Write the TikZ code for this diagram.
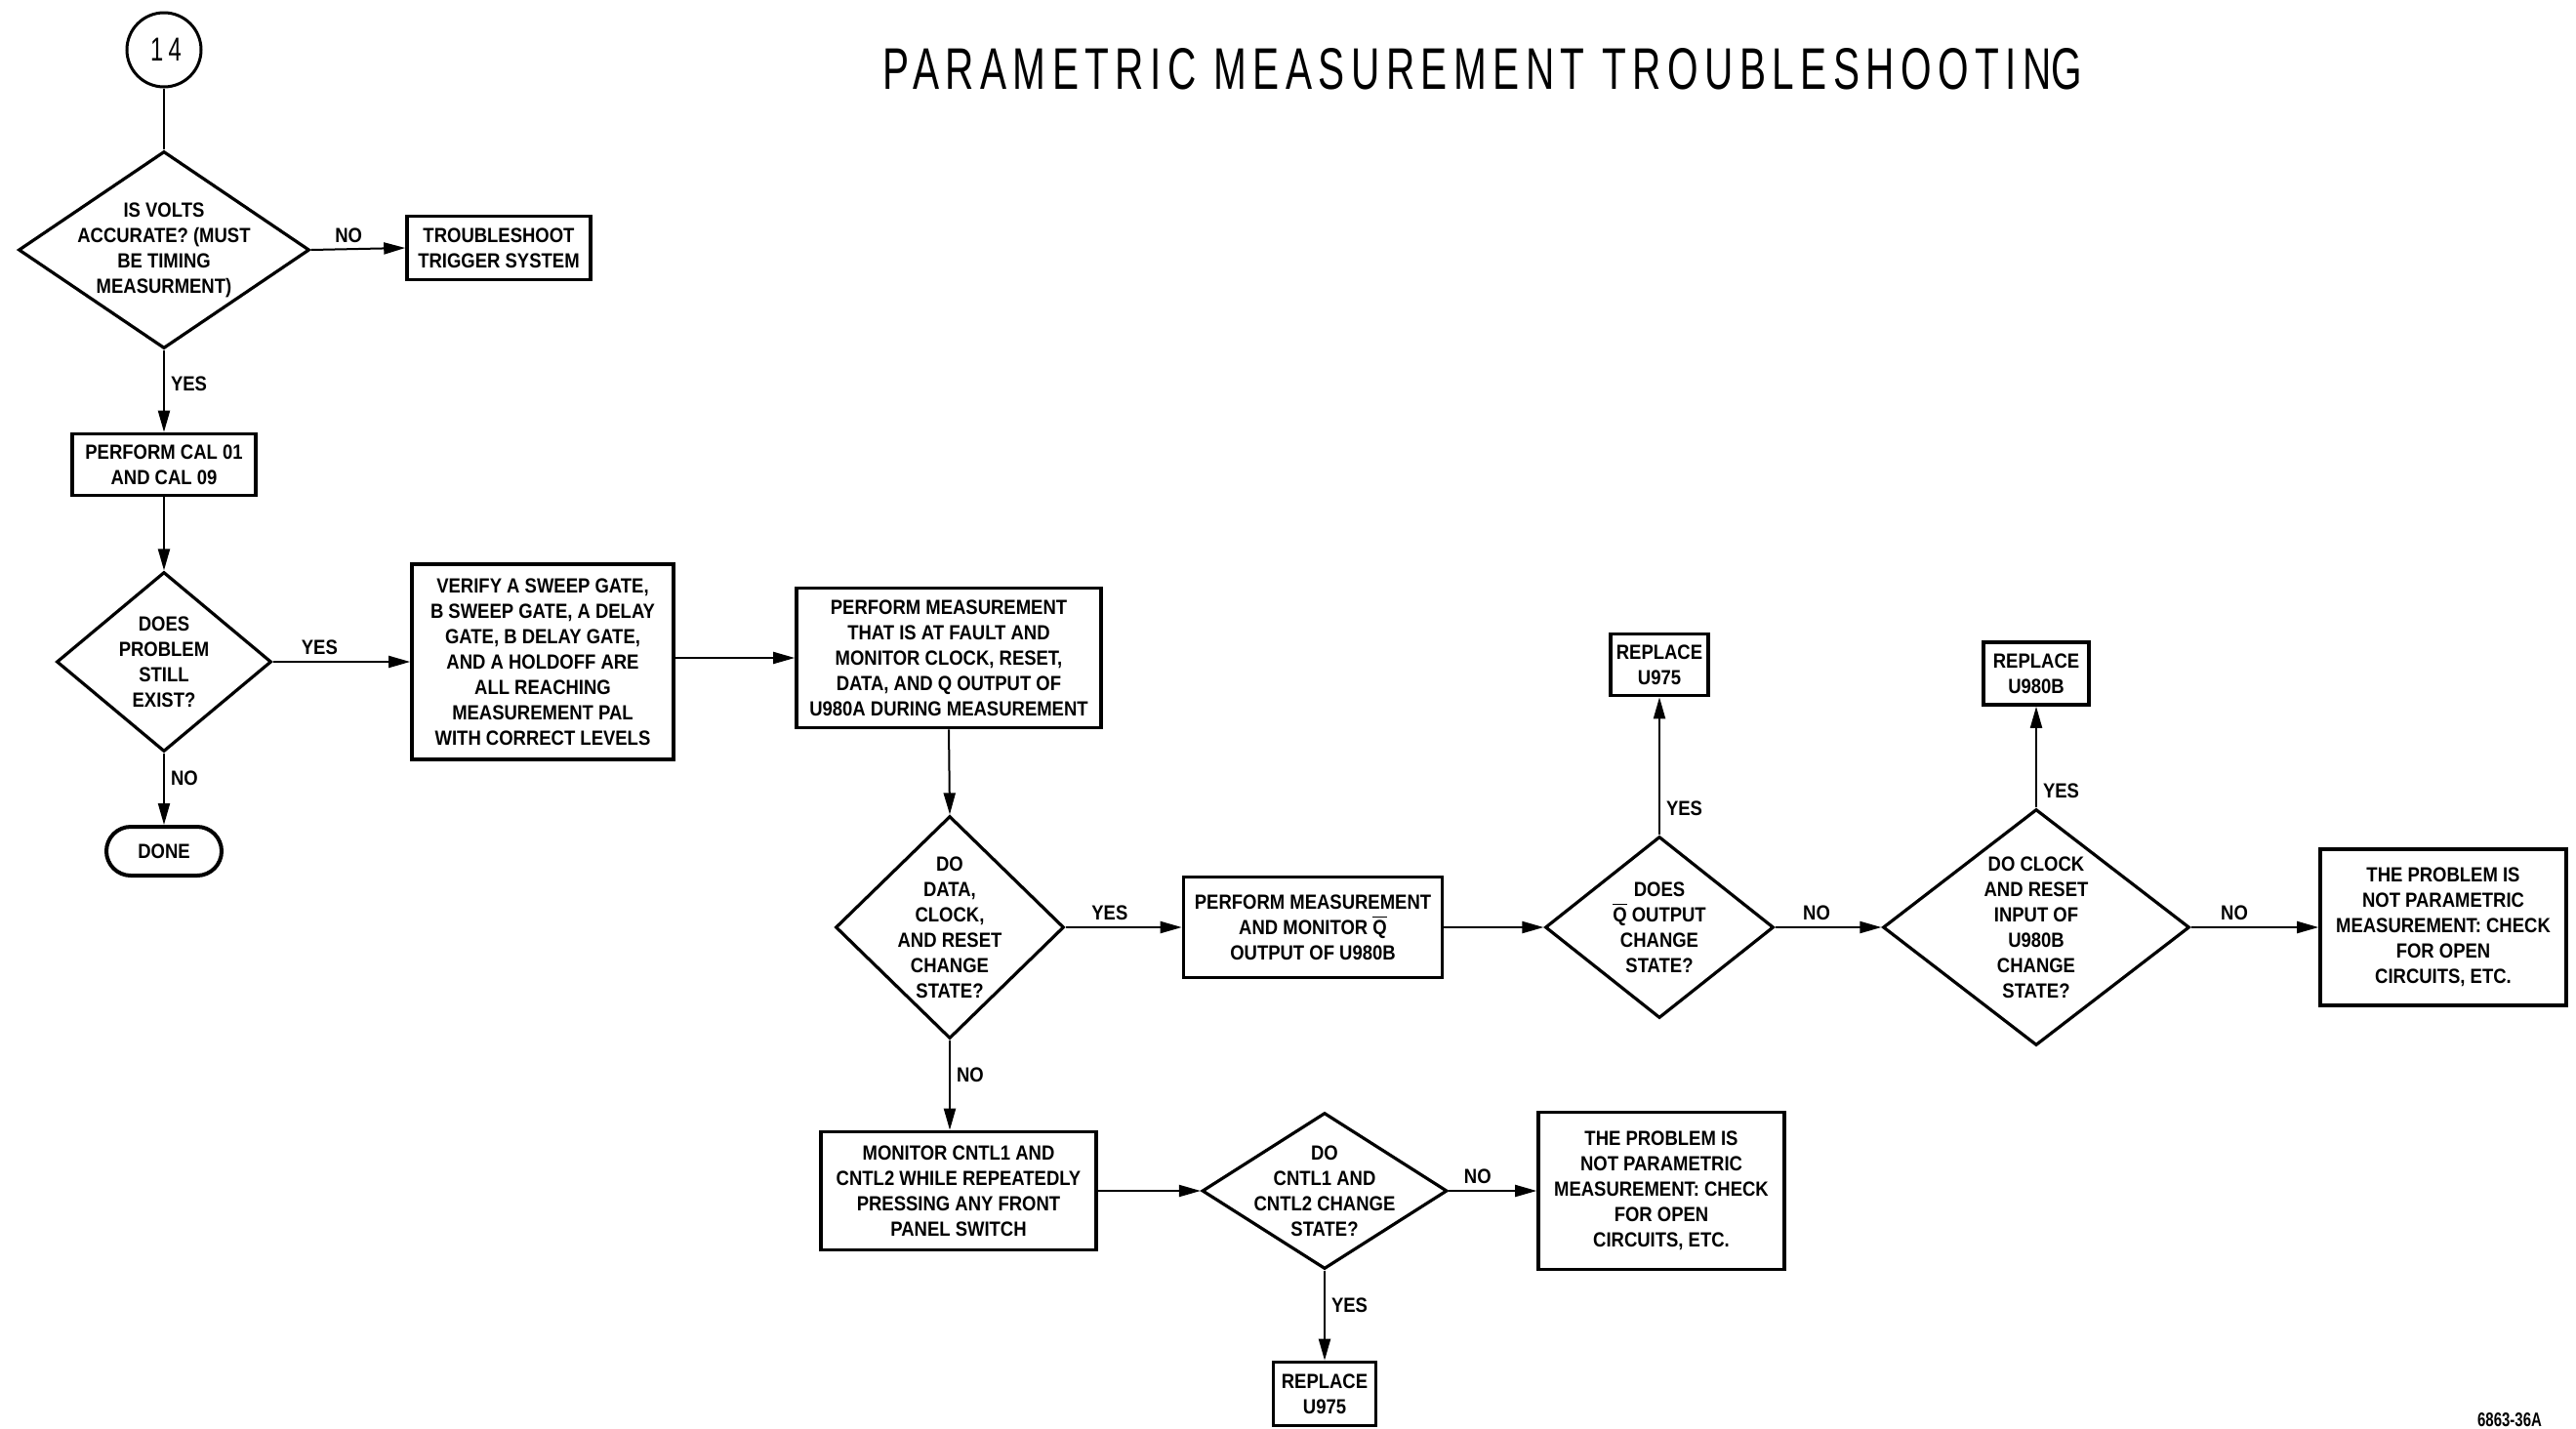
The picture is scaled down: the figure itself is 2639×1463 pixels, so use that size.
\documentclass[tikz,border=0pt]{standalone}
\usepackage{fontspec}
\setmainfont{Liberation Sans}
\newfontfamily\boxfont{Liberation Sans}[FakeStretch=0.88]
\newfontfamily\titlefont{Liberation Sans}[LetterSpace=16]
\newfontfamily\numfont{Liberation Sans}[FakeStretch=0.75]
\newfontfamily\circfont{Liberation Sans}[FakeStretch=0.7,LetterSpace=15]
\usetikzlibrary{arrows.meta,shapes.geometric}
\newcommand{\qbar}{$\overline{\hbox{Q}}$}
\begin{document}
\begin{tikzpicture}[x=0.5pt,y=-0.5pt,
  txt/.style={font=\boxfont\bfseries\fontsize{10.5}{13}\selectfont, align=center, inner sep=0pt},
  box/.style={draw, line width=1.8pt, rectangle, inner sep=0pt, txt},
  dia/.style={draw, line width=1.6pt, diamond, inner sep=0pt},
  conn/.style={line width=1pt},
  arr/.style={conn, -{Triangle[length=11pt,width=6pt]}},
  lbl/.style={font=\boxfont\bfseries\fontsize{10.5}{13}\selectfont, inner sep=3pt},
]
\useasboundingbox (0,0) rectangle (2639,1463);

% title and code
\node (title) at (1519,71) {\resizebox{614.5pt}{21pt}{\titlefont PARAMETRIC MEASUREMENT TROUBLESHOOTIN\kern0ptG}};
\node[anchor=base, font=\numfont\bfseries\fontsize{10}{11}\selectfont, inner sep=0pt] (code) at (2571,1461) {6863-36A};

% connector circle
\node[draw, circle, line width=1.5pt, minimum size=38pt, inner sep=0pt,
      font=\circfont\fontsize{17}{18}\selectfont] (c14) at (168,51) {\hspace{2pt}14};

% left column
\node[dia, minimum width=149pt, minimum height=101pt] (d1) at (168,256) {};
\node[txt] (d1t) at (d1.center) {IS VOLTS\\ACCURATE? (MUST\\BE TIMING\\MEASURMENT)};
\node[box, minimum width=94pt, minimum height=32.5pt] (b1) at (511,254) {TROUBLESHOOT\\TRIGGER SYSTEM};
\node[box, minimum width=94pt, minimum height=31.5pt] (b2) at (168,476) {PERFORM CAL 01\\AND CAL 09};
\node[dia, minimum width=110pt, minimum height=92pt] (d2) at (168,678) {};
\node[txt] (d2t) at (d2.center) {DOES\\PROBLEM\\STILL\\EXIST?};
\node[draw, rounded corners=12.5pt, line width=2pt, minimum width=59pt, minimum height=25pt, txt] (done) at (168,872) {DONE};

% second row
\node[box, minimum width=134pt, minimum height=100pt] (b3) at (556,678) {VERIFY A SWEEP GATE,\\B SWEEP GATE, A DELAY\\GATE, B DELAY GATE,\\AND A HOLDOFF ARE\\ALL REACHING\\MEASUREMENT PAL\\WITH CORRECT LEVELS};
\node[box, minimum width=156pt, minimum height=71.5pt] (b4) at (972,674) {PERFORM MEASUREMENT\\THAT IS AT FAULT AND\\MONITOR CLOCK, RESET,\\DATA, AND Q OUTPUT OF\\U980A DURING MEASUREMENT};

% third row
\node[dia, minimum width=117pt, minimum height=114pt] (d3) at (973,950) {};
\node[txt] (d3t) at (d3.center) {DO\\DATA,\\CLOCK,\\AND RESET\\CHANGE\\STATE?};
\node[box, minimum width=132.5pt, minimum height=51.5pt] (b5) at (1345,950) {PERFORM MEASUREMENT\\AND MONITOR \qbar\\OUTPUT OF U980B};
\node[dia, minimum width=117pt, minimum height=93pt] (d4) at (1700,950) {};
\node[txt] (d4t) at (d4.center) {DOES\\\qbar{} OUTPUT\\CHANGE\\STATE?};
\node[box, minimum width=50pt, minimum height=31.5pt] (b6) at (1700,681) {REPLACE\\U975};
\node[dia, minimum width=157pt, minimum height=121pt] (d5) at (2086,950) {};
\node[txt] (d5t) at (d5.center) {DO CLOCK\\AND RESET\\INPUT OF\\U980B\\CHANGE\\STATE?};
\node[box, minimum width=54pt, minimum height=32pt] (b7) at (2086,690) {REPLACE\\U980B};
\node[box, minimum width=126pt, minimum height=80pt] (b8) at (2503,950) {THE PROBLEM IS\\NOT PARAMETRIC\\MEASUREMENT: CHECK\\FOR OPEN\\CIRCUITS, ETC.};

% bottom row
\node[box, minimum width=141pt, minimum height=60.5pt] (b9) at (982,1220) {MONITOR CNTL1 AND\\CNTL2 WHILE REPEATEDLY\\PRESSING ANY FRONT\\PANEL SWITCH};
\node[dia, minimum width=125.5pt, minimum height=80pt] (d6) at (1357,1220) {};
\node[txt] (d6t) at (d6.center) {DO\\CNTL1 AND\\CNTL2 CHANGE\\STATE?};
\node[box, minimum width=126pt, minimum height=80.5pt] (b10) at (1702,1220) {THE PROBLEM IS\\NOT PARAMETRIC\\MEASUREMENT: CHECK\\FOR OPEN\\CIRCUITS, ETC.};
\node[box, minimum width=52.5pt, minimum height=32.5pt] (b11) at (1357,1428) {REPLACE\\U975};

% connectors
\draw[conn] (c14.south) -- (d1.north);
\draw[arr] (d1.east) -- node[lbl, above, pos=0.4] (l1) {NO} (b1.west);
\draw[arr] (d1.south) -- node[lbl, right, pos=0.41] (l2) {YES} (b2.north);
\draw[arr] (b2.south) -- (d2.north);
\draw[arr] (d2.east) -- node[lbl, above, pos=0.34] (l3) {YES} (b3.west);
\draw[arr] (d2.south) -- node[lbl, right, pos=0.35] (l4) {NO} (done.north);
\draw[arr] (b3.east |- b4.west) -- (b4.west);
\draw[arr] (b4.south) -- (d3.north);
\draw[arr] (d3.east) -- node[lbl, above, pos=0.38] (l5) {YES} (b5.west);
\draw[arr] (b5.east) -- (d4.west);
\draw[arr] (d4.north) -- node[lbl, right, pos=0.19] (l6) {YES} (b6.south);
\draw[arr] (d4.east) -- node[lbl, above, pos=0.39] (l7) {NO} (d5.west);
\draw[arr] (d5.north) -- node[lbl, right, pos=0.17] (l8) {YES} (b7.south);
\draw[arr] (d5.east) -- node[lbl, above, pos=0.34] (l9) {NO} (b8.west);
\draw[arr] (d3.south) -- node[lbl, right, pos=0.39] (l10) {NO} (d3.south |- b9.north);
\draw[arr] (b9.east) -- (d6.west);
\draw[arr] (d6.east) -- node[lbl, above, pos=0.33] (l11) {NO} (b10.west);
\draw[arr] (d6.south) -- node[lbl, right, pos=0.39] (l12) {YES} (b11.north);
\end{tikzpicture}
\end{document}
